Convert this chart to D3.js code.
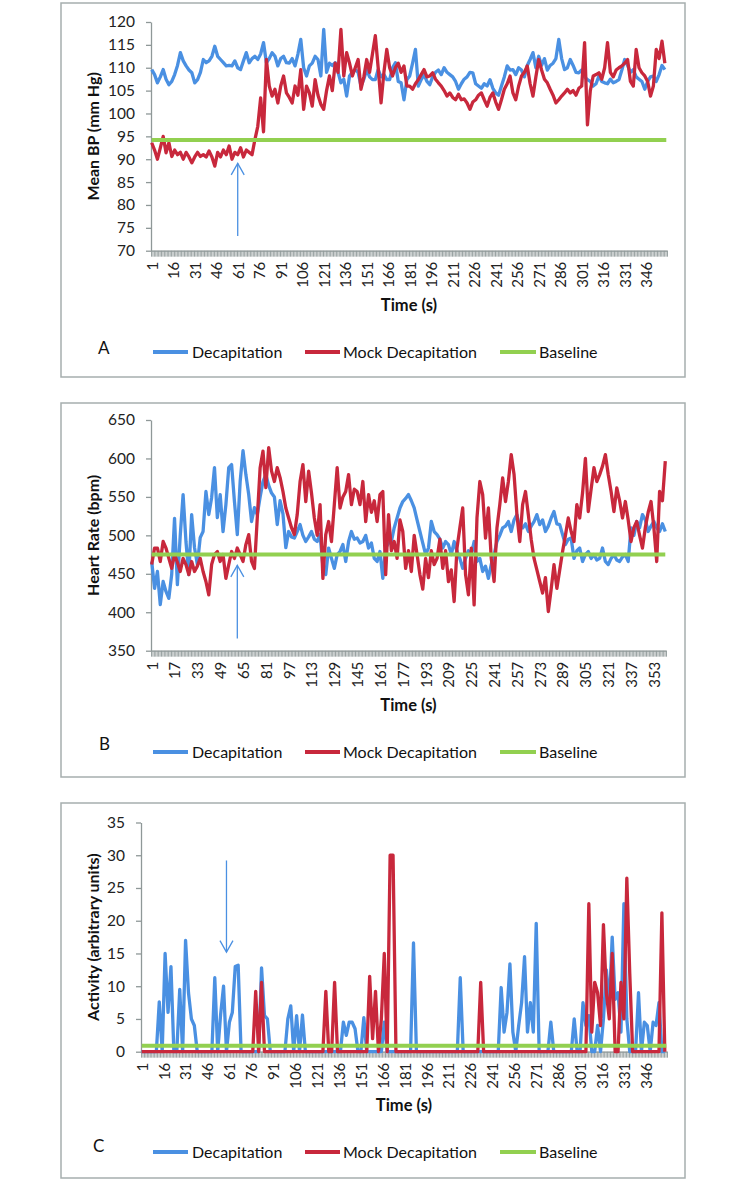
<!DOCTYPE html>
<html><head><meta charset="utf-8">
<script src="https://cdn.jsdelivr.net/npm/d3@7"></script>
<style>
body{margin:0;background:#fff;}
svg{display:block;font-family:Lato,"Noto Sans",sans-serif;}
</style></head><body>
<svg id="c" width="745" height="1183"></svg>
<script>
// ---------- DATA ----------
const seriesNames = ["Decapitation", "Mock Decapitation", "Baseline"];
const panelLetters = ["A", "B", "C"];
const yTitles = ["Mean BP (mm Hg)", "Heart Rate (bpm)", "Activity (arbitrary units)"];
const xTitle = "Time (s)";

// tick labels
const xTicksA = [1,16,31,46,61,76,91,106,121,136,151,166,181,196,211,226,241,256,271,286,301,316,331,346];
const xTicksB = [1,17,33,49,65,81,97,113,129,145,161,177,193,209,225,241,257,273,289,305,321,337,353];
const xTicksC = [1,16,31,46,61,76,91,106,121,136,151,166,181,196,211,226,241,256,271,286,301,316,331,346];
const yTicksA = [70,75,80,85,90,95,100,105,110,115,120];
const yTicksB = [350,400,450,500,550,600,650];
const yTicksC = [0,5,10,15,20,25,30,35];

// number of categories (seconds) on each axis
const nCatA = 360, nCatB = 361, nCatC = 360;
// sample times of the series (every 2 s)
const timesA = d3.range(1, 360, 2);
const timesB = d3.range(1, 362, 2);
const timesC = d3.range(1, 360, 2);

// Panel A: Mean BP (mm Hg)
const bpDecap = [
109.6,108.5,106.7,108,109.6,107.5,106.3,107,108.5,110.5,
113.3,111.5,110.4,109.5,108.9,106.7,107.4,109,111.8,111.1,
111.5,112.5,114.7,112.5,111.8,111.1,110.4,110.5,110.4,111.5,
110,109.6,111.5,113.3,111.1,112,112.5,111.8,113,115.5,
111.1,112,113.3,112.5,110.4,112,112.5,111.1,111,112,
110.4,113,116.2,110,108.2,110.4,111,112.5,111.8,108.2,
118.4,109,111,110.5,111.1,109,106.7,107.5,103.8,108.2,
109,109.6,109,106,107.5,109.6,108,107.4,107.4,109.6,
108,108.5,107.4,107.4,110,111.1,107,106.7,103,107.4,
108.2,111,114,106,107.4,108.5,107,106.3,108,109,
109.5,108.5,110,109,108.5,108,107,105.3,106.5,107.5,
108,109,108.9,106.5,106,105.5,106.5,106,107.4,105.5,
104.5,104,106,108,110.4,109.5,109.6,108.5,110,109.5,
108,110.5,111.8,113.3,110,112.5,110.5,112,109.5,110.5,
111,112,116.2,112,109.6,110,111.8,110.5,109,108.9,
109.5,108,107.4,107,106,106.5,108.2,107,106.7,106.5,
107.5,106.7,107,107.4,109.5,111.8,110.5,109,109.6,108,
107.5,107,105.3,107,108,108.2,107,108.5,110.5,109.6];
const bpMock = [
93.6,92,90,92.5,95,91.4,93.6,90.6,92,91,
91.5,90,91.5,90.5,89.2,90.5,91.5,90.6,91,90.5,
91.8,90.5,88.5,91.5,90.5,92,91,92.9,90,91.5,
91,92.5,90.5,92,91.5,91,94.3,97.2,103.4,96,
111.8,106,103.8,105.3,102.3,106,108.2,104.5,103.5,102.3,
106,104,109.6,100.9,106,104.5,101.6,107.4,104,102,
100.9,105,108.2,105,111,109,118.4,108.2,113.3,111,
108.2,110,111.8,105.3,108,111.8,109,113,117,110,
102.3,109,114,110,108.2,110,111,109,110.4,106,
106,105.3,106.5,107.4,108.5,109.6,108,108.2,108.9,107.5,
106.7,106,105,103.8,104.5,103.5,103,104.2,103,103.2,
102.3,100.9,102.5,103,104,104.5,103,101.6,103.5,104.5,
102.5,100.9,103,105.3,106.5,108.2,104.5,103,106,108.2,
109,110.4,106.5,103.8,108,111.8,109.5,107.5,106.7,105.3,
104,102.3,103,103.8,104.5,105.3,104.5,105,104,105.5,
106,115.5,97.5,105,108.2,108.5,108.9,107.5,110,115.5,
109,108,109.5,110,110.4,111,111.8,107,106,114,
110,108.9,108.2,107,103.8,106,114,112,115.8,111];
const bpBaseline = 94.2;

// Panel B: Heart rate (bpm)
const hrDecap = [
466,431,453,410,440,427,418,449,522,436,
500,553,492,449,527,484,462,497,505,557,
527,549,588,523,553,505,540,588,592,544,
501,570,610,579,553,518,536,527,550,570,
579,565,555,550,514,545,528,484,505,498,
496.5,505,514,500,492,498,505,495,492,501,
460,449,483.5,470,457,475,479,488,466,492,
505,495,496.5,490,492,500,483.5,490,470,466,
479,444,483.5,490,492,510,522.6,535.6,544,548,
553,545,535.6,520,505,490,475,483.5,518,505,
501,495,483.5,492,488,475,492,479,470,457,
470,480,475,492,466,470,453,460,444,462,
475,492,500,509.6,512,518,505,520,527,510,
509.6,515,505,512,518,527,514,520,505,512,
522.6,531,515,514,501,488,495,496.5,470,480,
483.5,466,475,479,470,475,468,470,483.5,466,
462,470,475,468,466,472,475,466,509.6,500,
518,510,527,520,505,512,518,510,505,515,
505];
const hrMock = [
462,483.5,483.5,466,492,483.5,470,457,475,465,
453,470,462,449,466,453,460,470,453,440,
422.6,462,475,479,466,475,444,462,479,470,
483.5,475,466,488,501,466,457,522.6,588,609.6,
562,614,583.5,570,588,575,557,535.6,522.6,510,
501,527,570,592,544,583.5,555,522.6,500,540,
444,501,518,492,540,588,535.6,550,557,579,
540,560,557,540,570,518,553,530,545,518,
553,557,449,527,480,492,470,520,505,457,
480,453,500,475,449,430,470,445,480,462,
470,495,457,480,440,455,414,483.5,510,535.6,
449,422.6,483.5,409.6,522.6,570,553,496.5,535.6,470,
440,509.6,540,574.8,544,570,605,579,527,492,
540,557,527,495,470,455,440,425,445,401,
430,462,431,455,479,500,522.6,505,492,540,
522.6,555,600,531,560,588,570,579,590,605,
579,557,531,561.7,545,522.6,544,520,492,510,
518,500,483.5,510,530,544,510,466,557,545,
596.5];
const hrBaseline = 475;

// Panel C: Activity (arbitrary units)
const actDecap = [
0,0,0,0,0,0,7.6,0,15,6,
13,0,0,9.5,0,17,9,5,4,0,
0,0,0,0,0,11.3,0,5.7,10,0,
4.5,6,13,13.2,0,0,0,0,0,0,
0,12.8,5.5,5,0,0,0,0,0,0,
5,7,0,5.5,0,5.6,0,0,0,0,
0,0,0,0,0,0,0,0,0,4.5,
2.5,4.5,4.5,3.5,0,0,5.2,0,0,0,
0,0,0,4.5,0,0,0,0,0,0,
0,0,0,16.6,0,0,0,0,0,0,
0,0,0,0,0,0,0,0,0,11.3,
0,0,0,0,0,0,0,0,0,0,
0,0,0,9.8,3,6,13.4,3,0,4,
7.5,14.5,3,7.5,3,19.6,0,0,0,0,
4.5,0,0,0,0,0,0,0,5,0,
0,7.5,4,5.5,0,0,4,0,5,12.5,
7,17.5,8,9,3,22.6,5,0,0,0,
9,0,4.5,4,0,4.5,4,7.5,0,0];
const actMock = [
0,0,0,0,0,0,0,0,0,0,
0,0,0,0,0,0,0,0,0,0,
0,0,0,0,0,0,0,0,0,0,
0,0,0,0,0,0,0,0,0,9.2,
0,10.6,0,0,0,0,0,0,0,0,
0,0,0,0,0,0,0,0,0,0,
0,0,0,9.2,0,0,10.6,0,0,0,
0,0,0,0,0,0,0,0,11.5,2,
9.2,0,5,15,0,30,30,0,0,0,
0,0,0,0,0,0,0,0,0,0,
0,0,0,0,0,0,0,0,0,0,
0,0,0,0,0,0,10.6,0,0,0,
0,0,0,0,0,0,0,0,0,0,
0,0,0,0,0,0,0,0,0,0,
0,0,0,0,0,0,0,0,0,0,
0,0,0,22.6,3,10.6,9,4,19.4,9,
5,15,0,0,10.6,5,26.5,12,0,0,
0,0,0,0,0,0,0,0,21.2,0];
const actBaseline = 0.9;

// arrows (time, from value, to value)
const arrowTime = [61, 61, 59];
const arrowFrom = [73.2, 366, 29.2];
const arrowTo = [89.1, 461, 15.2];

// ---------- DRAWING ----------
const svg = d3.select("#c");
const C_DECAP = "#4A90E2", C_MOCK = "#C8283C", C_BASE = "#92D050";
const AXIS_GREY = "#8f9898", FRAME_GREY = "#a6aeae";

const panels = [
  {off:0, frame:[61,3,685,377], xr:[151,667], yr:[250.7,22], N:nCatA, yd:[70,120],
   yT:yTicksA, xT:xTicksA, t:timesA, d:bpDecap, m:bpMock, b:bpBaseline, letterX:98, letterY:354},
  {off:400, frame:[61,403,685,777], xr:[151,666], yr:[650.7,420], N:nCatB, yd:[350,650],
   yT:yTicksB, xT:xTicksB, t:timesB, d:hrDecap, m:hrMock, b:hrBaseline, letterX:99, letterY:750},
  {off:800, frame:[61,803,685,1178], xr:[141,667], yr:[1051.7,822.5], N:nCatC, yd:[0,35],
   yT:yTicksC, xT:xTicksC, t:timesC, d:actDecap, m:actMock, b:actBaseline, letterX:93, letterY:1152}
];

panels.forEach((p, k) => {
  const g = svg.append("g");
  g.append("rect")
    .attr("x", p.frame[0]).attr("y", p.frame[1])
    .attr("width", p.frame[2]-p.frame[0]).attr("height", p.frame[3]-p.frame[1])
    .attr("fill", "#fff").attr("stroke", FRAME_GREY).attr("stroke-width", 1.5);

  const x = d3.scaleLinear().domain([0.5, p.N + 0.5]).range(p.xr);
  const y = d3.scaleLinear().domain(p.yd).range(p.yr);
  const y0 = p.yr[0];

  // dense category tick band
  const band = g.append("g").attr("transform", `translate(0,${y0})`)
    .call(d3.axisBottom(x).tickValues(d3.range(0.5, p.N + 1, 1)).tickSize(6).tickSizeOuter(0).tickFormat(""));
  band.selectAll("line").attr("stroke", AXIS_GREY).attr("stroke-width", 0.9);
  band.select(".domain").attr("stroke", AXIS_GREY).attr("stroke-width", 1.2);

  // x tick labels
  const lab = g.append("g").attr("transform", `translate(0,${y0})`)
    .call(d3.axisBottom(x).tickValues(p.xT).tickSize(0));
  lab.attr("font-size", null).attr("font-family", null);
  lab.select(".domain").remove();
  lab.selectAll("text")
    .attr("transform", "rotate(-90)").attr("x", -11).attr("y", 0).attr("dy", "0.36em")
    .style("text-anchor", "end").style("font-size", "15px").attr("fill", "#222");

  // y axis
  const ya = g.append("g").attr("transform", `translate(${p.xr[0]},0)`)
    .call(d3.axisLeft(y).tickValues(p.yT).tickSize(5).tickSizeOuter(0).tickPadding(11));
  ya.attr("font-size", null).attr("font-family", null);
  ya.select(".domain").attr("stroke", AXIS_GREY).attr("stroke-width", 1.3);
  ya.selectAll("line").attr("stroke", AXIS_GREY).attr("stroke-width", 1.3);
  ya.selectAll("text").style("font-size", "15.5px").attr("fill", "#222");

  // titles
  g.append("text").attr("x", (p.xr[0]+p.xr[1])/2).attr("y", 311 + p.off)
    .attr("text-anchor", "middle").style("font-size", "16.5px").style("font-weight", "bold")
    .attr("fill", "#111").text(xTitle);
  g.append("text")
    .attr("transform", `translate(93.5,${(p.yr[0]+p.yr[1])/2}) rotate(-90)`)
    .attr("text-anchor", "middle").attr("dy", "0.35em")
    .style("font-size", "16px").style("font-weight", "bold").attr("fill", "#111")
    .text(yTitles[k]);

  // series
  const line = d3.line().x((d, i) => x(p.t[i])).y(d => y(d)).curve(d3.curveLinear);
  g.append("path").datum(p.d).attr("d", line).attr("fill", "none")
    .attr("stroke", C_DECAP).attr("stroke-width", 3.3).attr("stroke-linejoin", "round");
  g.append("path").datum(p.m).attr("d", line).attr("fill", "none")
    .attr("stroke", C_MOCK).attr("stroke-width", 3.3).attr("stroke-linejoin", "round");
  const bl = d3.line().x(d => x(d[0])).y(d => y(d[1]));
  g.append("path").datum([[1, p.b], [p.N, p.b]]).attr("d", bl)
    .attr("stroke", C_BASE).attr("stroke-width", 4).attr("fill", "none");

  // arrow
  const ax = x(arrowTime[k]), ay1 = y(arrowFrom[k]), ay2 = y(arrowTo[k]);
  const dir = ay2 < ay1 ? 1 : -1;
  g.append("line").attr("x1", ax).attr("x2", ax).attr("y1", ay1).attr("y2", ay2)
    .attr("stroke", C_DECAP).attr("stroke-width", 1.3);
  g.append("path")
    .attr("d", `M${ax-6.5},${ay2 + dir*11.5}L${ax},${ay2}L${ax+6.5},${ay2 + dir*11.5}`)
    .attr("fill", "none").attr("stroke", C_DECAP).attr("stroke-width", 1.3);

  // legend
  const ly = 352 + p.off;
  const items = [
    {x1:153, x2:188, tx:192, c:C_DECAP},
    {x1:305, x2:340, tx:343, c:C_MOCK},
    {x1:500, x2:536, tx:539, c:C_BASE}
  ];
  items.forEach((it, j) => {
    g.append("line").attr("x1", it.x1).attr("x2", it.x2).attr("y1", ly).attr("y2", ly)
      .attr("stroke", it.c).attr("stroke-width", 4);
    g.append("text").attr("x", it.tx).attr("y", ly).attr("dy", "0.35em")
      .style("font-size", "16px").attr("fill", "#111").text(seriesNames[j]);
  });
  g.append("text").attr("x", p.letterX).attr("y", p.letterY)
    .style("font-size", "17px").attr("fill", "#111").text(panelLetters[k]);
});
</script>
</body></html>
